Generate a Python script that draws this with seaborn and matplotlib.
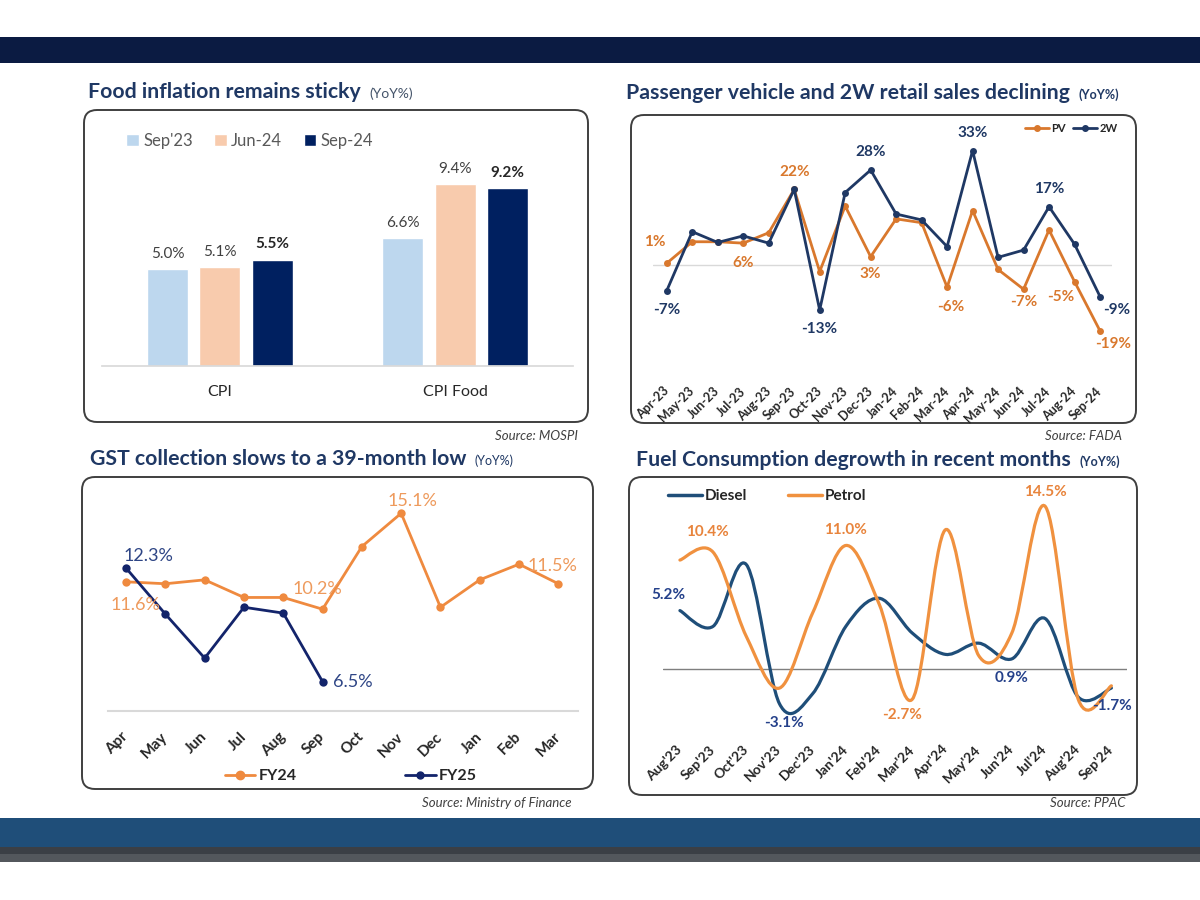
import numpy as np
import pandas as pd
import matplotlib
matplotlib.use("Agg")
import matplotlib.pyplot as plt
import seaborn as sns
from matplotlib.patches import FancyBboxPatch, Rectangle, PathPatch
from matplotlib.path import Path
from matplotlib.lines import Line2D

# ---- data ----
cpi_groups = ["CPI", "CPI Food"]
cpi_periods = ["Sep'23", "Jun-24", "Sep-24"]
cpi_sep23 = [5.0, 6.6]
cpi_jun24 = [5.1, 9.4]
cpi_sep24 = [5.5, 9.2]

auto_months = ["Apr-23", "May-23", "Jun-23", "Jul-23", "Aug-23", "Sep-23", "Oct-23", "Nov-23", "Dec-23",
               "Jan-24", "Feb-24", "Mar-24", "Apr-24", "May-24", "Jun-24", "Jul-24", "Aug-24", "Sep-24"]
pv_sales = [0.5, 6.7, 6.7, 6.3, 9.3, 21.8, -1.9, 17.0, 2.4, 13.3, 12.2, -6.4, 15.7, -1.3, -7.0, 10.1, -4.8, -19.0]
tw_sales = [-7.4, 9.6, 6.5, 8.4, 6.3, 21.8, -13.0, 20.9, 27.4, 14.7, 13.0, 5.3, 33.0, 2.2, 4.3, 16.8, 6.0, -9.1]

gst_months = ["Apr", "May", "Jun", "Jul", "Aug", "Sep", "Oct", "Nov", "Dec", "Jan", "Feb", "Mar"]
gst_fy24 = [11.6, 11.5, 11.7, 10.8, 10.8, 10.2, 13.4, 15.1, 10.3, 11.7, 12.5, 11.5]
gst_fy25 = [12.3, 9.95, 7.7, 10.3, 10.0, 6.5]

fuel_months = ["Aug'23", "Sep'23", "Oct'23", "Nov'23", "Dec'23", "Jan'24", "Feb'24",
               "Mar'24", "Apr'24", "May'24", "Jun'24", "Jul'24", "Aug'24", "Sep'24"]
diesel = [5.2, 3.8, 9.3, -3.1, -2.2, 3.8, 6.3, 3.2, 1.3, 2.3, 0.9, 4.5, -2.5, -1.7]
petrol = [9.7, 10.4, 2.9, -1.7, 5.0, 11.0, 5.8, -2.7, 12.4, 1.2, 3.2, 14.5, -2.7, -1.5]

NAVY_T = "#1f3864"
ORANGE = "#d9782d"
NAVY = "#1f3864"

sns.set_theme(style="white")
plt.rcParams["font.family"] = ["Lato", "DejaVu Sans"]

fig = plt.figure(figsize=(12, 9), dpi=100)
bg = fig.add_axes([0, 0, 1, 1])
bg.set_xlim(0, 1200)
bg.set_ylim(900, 0)
bg.axis("off")

# header / footer bands
bg.add_patch(Rectangle((0, 37), 1200, 26, color="#0b1b42", lw=0))
bg.add_patch(Rectangle((0, 818), 1200, 29, color="#1f4e79", lw=0))
bg.add_patch(Rectangle((0, 847), 1200, 7, color="#3b3f45", lw=0))
bg.add_patch(Rectangle((0, 854), 1200, 8, color="#53575c", lw=0))

# panel frames
for x0, y0, x1, y1 in [(84, 110, 588, 422), (631, 115, 1136, 423), (82, 477, 593, 789), (629, 477, 1137, 795)]:
    bg.add_patch(FancyBboxPatch((x0, y0), x1 - x0, y1 - y0, boxstyle="round,pad=0,rounding_size=13",
                                fc="white", ec="#3f3f3f", lw=1.4))


def title(x, y, text, sub_size=9, sub_weight="bold", sub_color=NAVY_T):
    t = bg.text(x, y, text, fontsize=15.3, fontweight="bold", color=NAVY_T, va="center")
    bg.annotate("(YoY%)", xy=(1, 0.5), xycoords=t, xytext=(6, -1), textcoords="offset points",
                fontsize=sub_size, fontweight=sub_weight, color=sub_color, va="center")


title(88, 92, "Food inflation remains sticky", sub_size=10, sub_weight="normal", sub_color="#44546a")
title(626, 93, "Passenger vehicle and 2W retail sales declining")
title(90, 459, "GST collection slows to a 39-month low", sub_weight="normal")
title(636, 460, "Fuel Consumption degrowth in recent months")

for x, y, s in [(578, 436, "Source: MOSPI"), (1122, 436, "Source: FADA"),
                (572, 803, "Source: Ministry of Finance"), (1125, 803, "Source: PPAC")]:
    bg.text(x, y, s, fontsize=9.5, fontstyle="italic", color="#404040", ha="right", va="center")


def px_axes(x0, y0, x1, y1):
    ax = fig.add_axes([x0 / 1200, 1 - y1 / 900, (x1 - x0) / 1200, (y1 - y0) / 900])
    ax.patch.set_alpha(0)
    for s in ax.spines.values():
        s.set_visible(False)
    return ax


def label(ax, x, y, text, dx, dy, color, size=10, weight="bold", ha="center"):
    # dx, dy in pixels, dy positive = up
    ax.annotate(text, xy=(x, y), xytext=(dx * 0.72, dy * 0.72), textcoords="offset points",
                ha=ha, va="center", fontsize=size, fontweight=weight, color=color)


# ---- panel 1: CPI bars ----
ax1 = px_axes(102, 130, 573, 366)
df1 = pd.DataFrame({"group": cpi_groups * 3,
                    "period": np.repeat(cpi_periods, 2),
                    "value": cpi_sep23 + cpi_jun24 + cpi_sep24})
sns.barplot(data=df1, x="group", y="value", hue="period", palette=["#bdd7ee", "#f8cbad", "#002060"],
            saturation=1, width=0.667, gap=0.22, ax=ax1)
ax1.set_xlim(-0.5, 1.5)
ax1.set_ylim(0, 12.2)
for k, cont in enumerate(ax1.containers):
    ax1.bar_label(cont, labels=[f"{v:.1f}%" for v in cont.datavalues], padding=6, fontsize=11,
                  color="#262626" if k == 2 else "#404040", fontweight="bold" if k == 2 else "normal")
ax1.spines["bottom"].set_visible(True)
ax1.spines["bottom"].set_color("#d9d9d9")
ax1.set_xlabel("")
ax1.set_ylabel("")
ax1.set_yticks([])
ax1.tick_params(axis="x", length=0, pad=14, labelsize=11.5, labelcolor="#262626")
sns.move_legend(ax1, "center left", bbox_to_anchor=(0.052, 0.953), ncol=3, frameon=False, title=None,
                fontsize=12, handlelength=0.75, handleheight=0.75, handletextpad=0.25, columnspacing=1.3,
                borderpad=0, borderaxespad=0)
for t in ax1.get_legend().get_texts():
    t.set_color("#595959")

# ---- panel 2: PV / 2W ----
ax2 = px_axes(653, 118, 1112, 378)
n2 = len(auto_months)
df2 = pd.DataFrame({"pos": list(range(n2)) * 2, "value": pv_sales + tw_sales,
                    "series": ["PV"] * n2 + ["2W"] * n2})
ax2.axhline(0, color="#d9d9d9", lw=1, zorder=0)
sns.lineplot(data=df2, x="pos", y="value", hue="series", palette={"PV": ORANGE, "2W": NAVY},
             marker="o", markersize=5, markeredgewidth=0, linewidth=2, ax=ax2, legend=False)
ax2.set_xlim(-0.54, 17.47)
ax2.set_ylim(-32.6, 42.4)
ax2.set_xlabel("")
ax2.set_ylabel("")
ax2.set_yticks([])
ax2.set_xticks(range(n2), auto_months, rotation=45, ha="right", va="center", rotation_mode="anchor",
               fontsize=9, fontweight="bold", color="#262626")
ax2.tick_params(axis="x", length=0, pad=8)
ax2.legend(handles=[Line2D([], [], color=ORANGE, marker="o", ms=4, lw=2),
                    Line2D([], [], color=NAVY, marker="o", ms=4, lw=2)],
           labels=["PV", "2W"], loc="center right", bbox_to_anchor=(1.012, 0.96), ncol=2, frameon=False,
           prop={"size": 8, "weight": "bold"}, handlelength=2.2, handletextpad=0.2, columnspacing=0.6,
           borderpad=0, borderaxespad=0)
for i, txt, dx, dy in [(0, "1%", -12, 21), (3, "6%", 0, -20), (5, "22%", 0, 17), (8, "3%", 0, -17),
                       (11, "-6%", 4, -20), (14, "-7%", 0, -13), (16, "-5%", -14, -15), (17, "-19%", 13, -13)]:
    label(ax2, i, pv_sales[i], txt, dx, dy, ORANGE, size=11)
for i, txt, dx, dy in [(0, "-7%", 0, -19), (6, "-13%", 0, -19), (8, "28%", 0, 18), (12, "33%", 0, 18),
                       (15, "17%", 0, 18), (17, "-9%", 17, -13)]:
    label(ax2, i, tw_sales[i], txt, dx, dy, NAVY, size=11)

# ---- panel 3: GST ----
G_OR = "#ef8a3f"
G_NV = "#13246b"
ax3 = px_axes(108, 480, 578, 711)
df3 = pd.DataFrame({"pos": list(range(12)) + list(range(len(gst_fy25))),
                    "value": gst_fy24 + gst_fy25,
                    "series": ["FY24"] * 12 + ["FY25"] * len(gst_fy25)})
sns.lineplot(data=df3, x="pos", y="value", hue="series", palette={"FY24": G_OR, "FY25": G_NV},
             marker="o", markersize=6, markeredgewidth=0, linewidth=2, ax=ax3, legend=False)
ax3.set_xlim(-0.46, 11.5)
ax3.set_ylim(5.0, 16.8)
ax3.set_xlabel("")
ax3.set_ylabel("")
ax3.set_yticks([])
ax3.spines["bottom"].set_visible(True)
ax3.spines["bottom"].set_color("#d9d9d9")
ax3.spines["bottom"].set_linewidth(1.5)
ax3.set_xticks(range(12), gst_months, rotation=45, ha="right", va="center", rotation_mode="anchor",
               fontsize=11, fontweight="bold", color="#262626")
ax3.tick_params(axis="x", length=0, pad=17)
ax3.legend(handles=[Line2D([], [], color=G_OR, marker="o", ms=6, lw=2),
                    Line2D([], [], color=G_NV, marker="o", ms=5, lw=2)],
           labels=["FY24", "FY25"], loc="center left", bbox_to_anchor=((225 - 108) / 470, (711 - 776) / 231),
           ncol=2, frameon=False, prop={"size": 11.5, "weight": "bold"}, handlelength=1.9,
           handletextpad=0.2, columnspacing=6.8, borderpad=0, borderaxespad=0)
GL_OR = "#ee9a5c"
GL_NV = "#2e4585"
for i, txt, dx, dy in [(0, "11.6%", 9, -23), (5, "10.2%", -5, 20), (7, "15.1%", 11, 12), (11, "11.5%", -6, 18)]:
    label(ax3, i, gst_fy24[i], txt, dx, dy, GL_OR, size=13, weight="normal")
label(ax3, 0, gst_fy25[0], "12.3%", 22, 12, GL_NV, size=13, weight="normal")
label(ax3, 5, gst_fy25[5], "6.5%", 10, 0, GL_NV, size=13, weight="normal", ha="left")

# ---- panel 4: fuel (smoothed lines) ----
F_NV = "#1f4e79"
F_OR = "#f0913f"
ax4 = px_axes(663, 490, 1127, 735)
n4 = len(fuel_months)


def smooth_path(xs, ys):
    p = np.column_stack([xs, ys]).astype(float)
    ext = np.vstack([p[0], p, p[-1]])
    verts = [p[0]]
    codes = [Path.MOVETO]
    for i in range(len(p) - 1):
        p0, p1, p2, p3 = ext[i], ext[i + 1], ext[i + 2], ext[i + 3]
        verts += [p1 + (p2 - p0) / 6, p2 - (p3 - p1) / 6, p2]
        codes += [Path.CURVE4] * 3
    return Path(verts, codes)


ax4.axhline(0, color="#7f7f7f", lw=1, zorder=0)
xs4 = np.arange(n4)
ax4.add_patch(PathPatch(smooth_path(xs4, diesel), fill=False, ec=F_NV, lw=2.3, capstyle="round"))
ax4.add_patch(PathPatch(smooth_path(xs4, petrol), fill=False, ec=F_OR, lw=2.3, capstyle="round"))
ax4.set_xlim(-0.51, 13.47)
ax4.set_ylim(-5.88, 15.94)
ax4.set_yticks([])
ax4.set_xticks(range(n4), fuel_months, rotation=45, ha="right", va="center", rotation_mode="anchor",
               fontsize=10, fontweight="bold", color="#262626")
ax4.tick_params(axis="x", length=0, pad=9)
ax4.legend(handles=[Line2D([], [], color=F_NV, lw=2.5), Line2D([], [], color=F_OR, lw=2.5)],
           labels=["Diesel", "Petrol"], loc="center left", bbox_to_anchor=(0.011, 0.976), ncol=2,
           frameon=False, prop={"size": 11, "weight": "bold"}, handlelength=2.2, handletextpad=0.2,
           columnspacing=2.7, borderpad=0, borderaxespad=0)
FL_OR = "#e8843c"
FL_NV = "#24408a"
for i, txt, dx, dy in [(1, "10.4%", -6, 20), (5, "11.0%", 0, 15), (7, "-2.7%", -10, -16), (11, "14.5%", 0, 14)]:
    label(ax4, i, petrol[i], txt, dx, dy, FL_OR, size=11)
for i, txt, dx, dy in [(0, "5.2%", -12, 16), (3, "-3.1%", 5, -19), (10, "0.9%", 0, -19), (13, "-1.7%", 1, -18)]:
    label(ax4, i, diesel[i], txt, dx, dy, FL_NV, size=11)

fig.savefig("out.png", dpi=100, facecolor="white")
